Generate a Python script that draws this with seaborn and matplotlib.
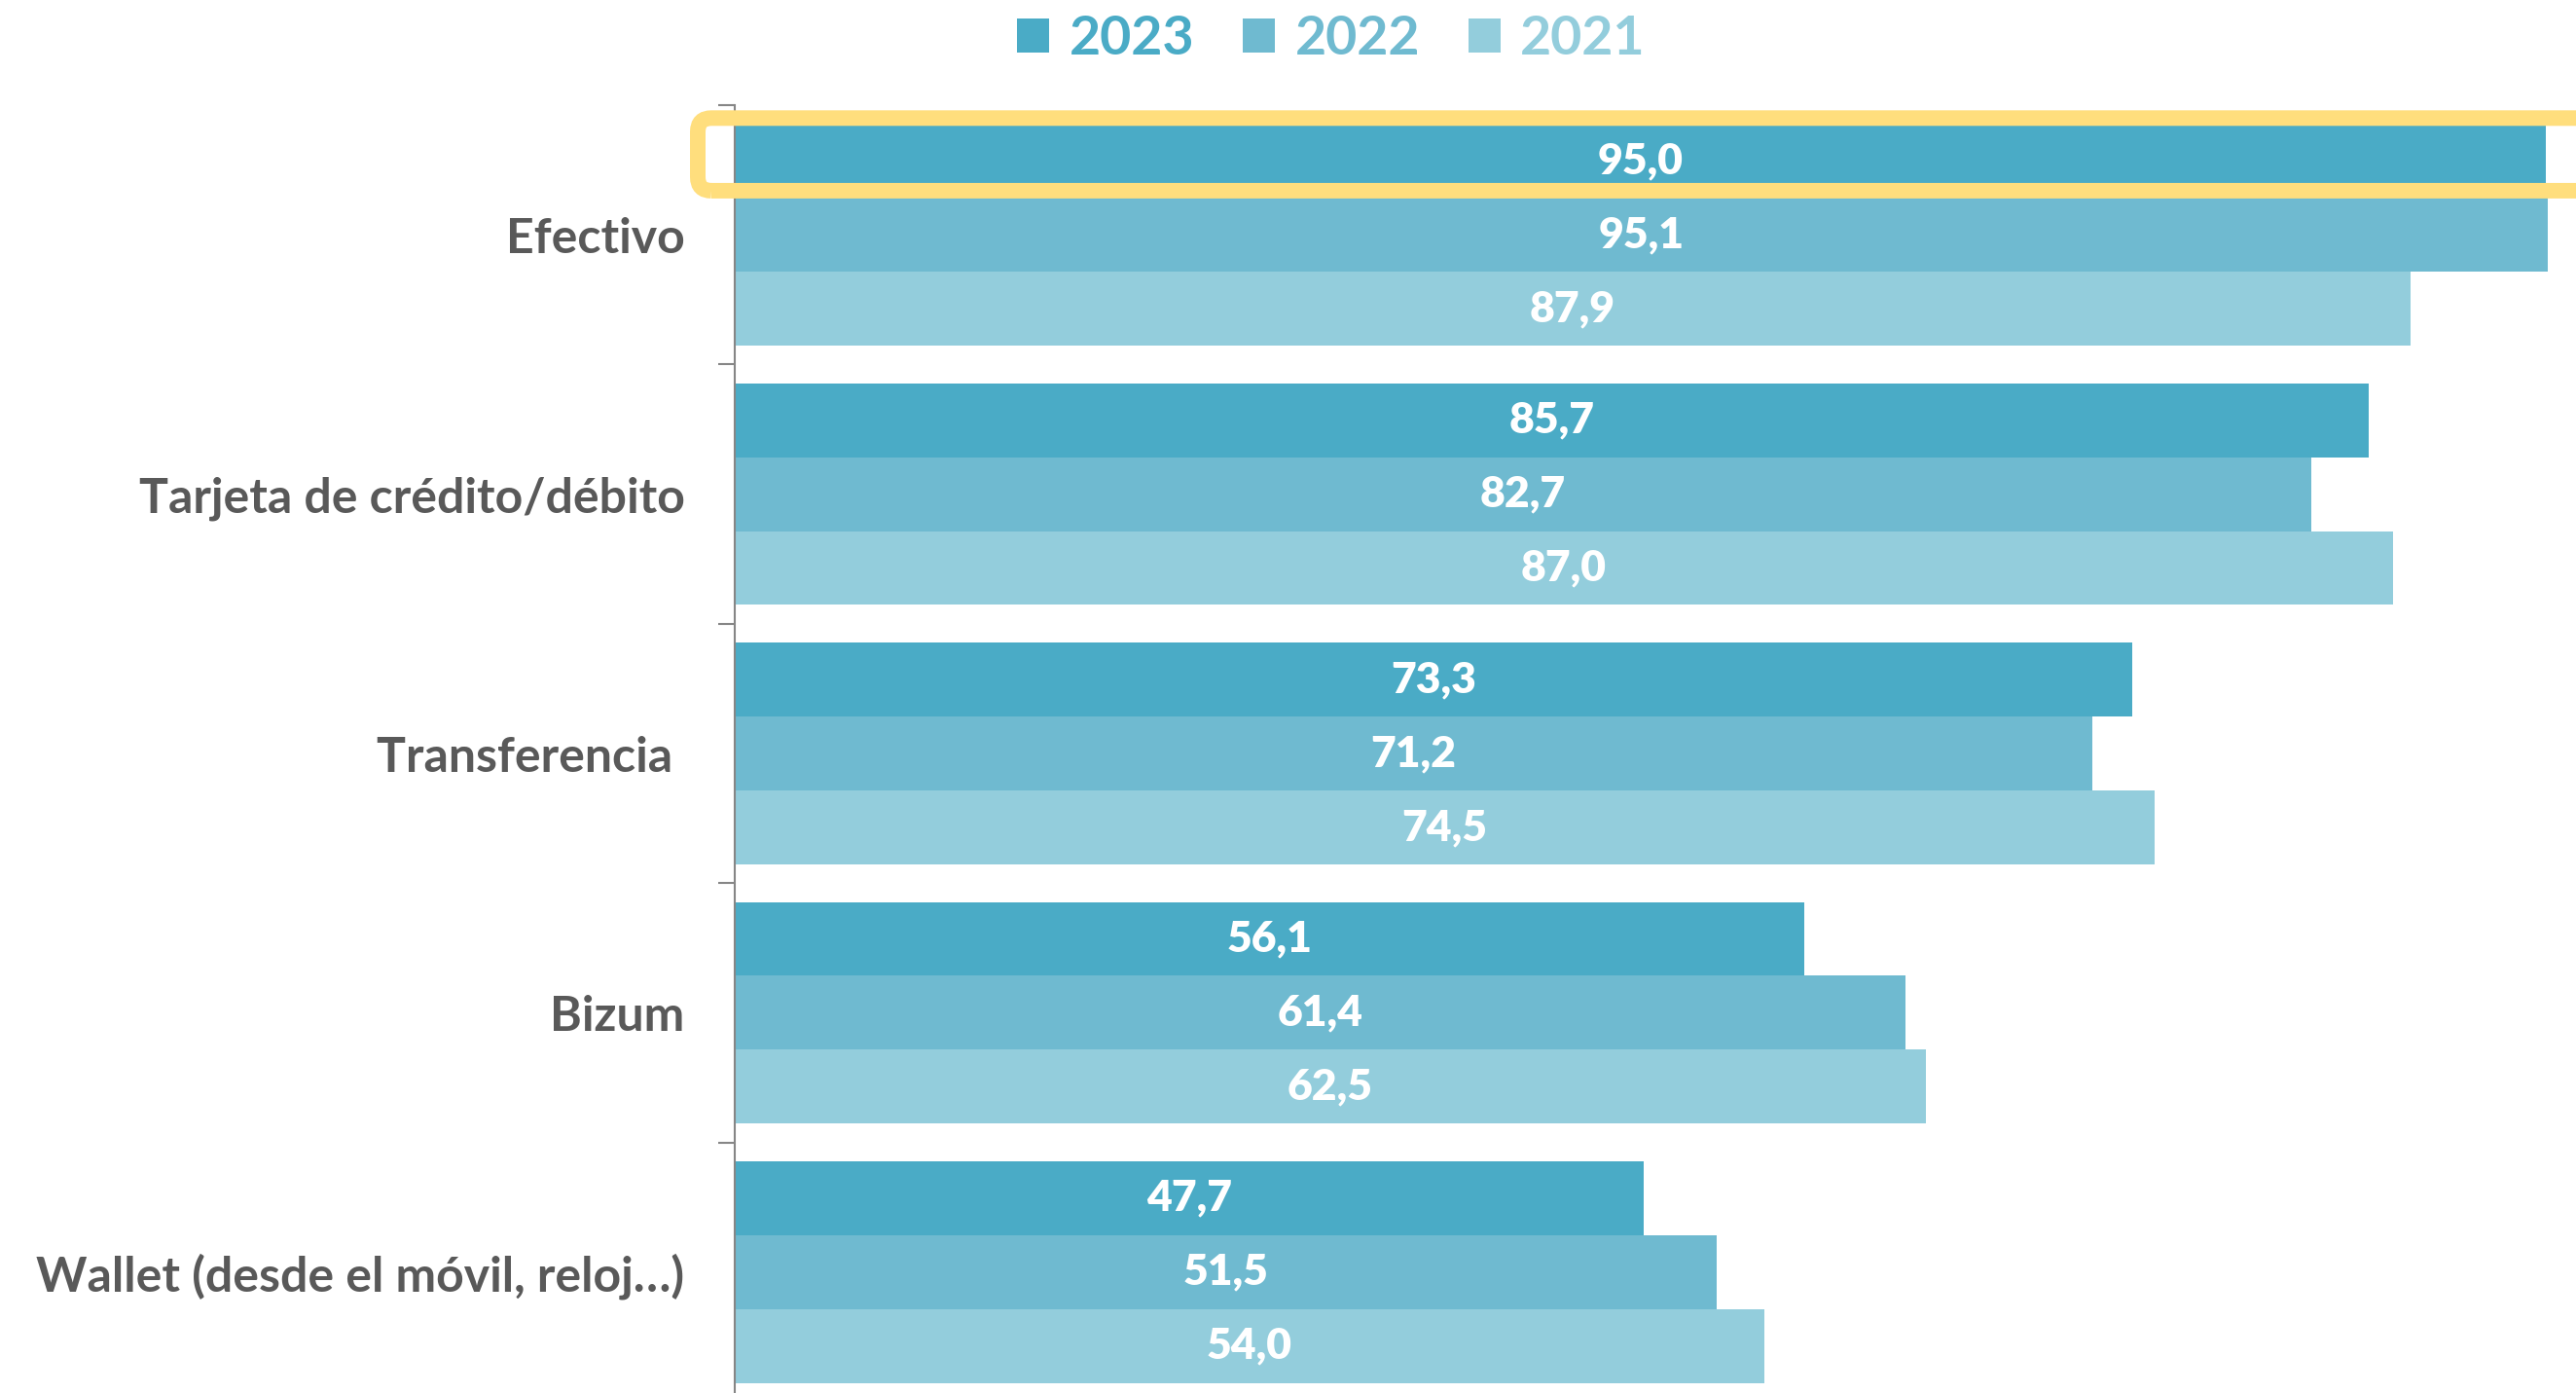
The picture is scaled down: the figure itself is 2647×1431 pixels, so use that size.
import matplotlib
matplotlib.use("Agg")
import matplotlib.pyplot as plt
from matplotlib.patches import FancyBboxPatch
from matplotlib.transforms import IdentityTransform
import pandas as pd
import seaborn as sns

categories = ["Efectivo", "Tarjeta de crédito/débito", "Transferencia ",
              "Bizum", "Wallet (desde el móvil, reloj…)"]
years = ["2023", "2022", "2021"]
vals_2023 = [95.0, 85.7, 73.3, 56.1, 47.7]
vals_2022 = [95.1, 82.7, 71.2, 61.4, 51.5]
vals_2021 = [87.9, 87.0, 74.5, 62.5, 54.0]
colors = ["#4AABC6", "#6FBAD0", "#93CDDC"]

series = {"2023": vals_2023, "2022": vals_2022, "2021": vals_2021}
df = pd.DataFrame(
    [(c, y, v) for y in years for c, v in zip(categories, series[y])],
    columns=["medio", "year", "valor"])

sns.set_style("white")
plt.rcParams["font.family"] = ["Lato", "DejaVu Sans"]

W, H = 2647, 1431
fig = plt.figure(figsize=(W / 100, H / 100), dpi=100)
ax_left, ax_top, ax_bottom = 755, 108, 1440
ax = fig.add_axes([ax_left / W, (H - ax_bottom) / H,
                   (W - ax_left) / W, (ax_bottom - ax_top) / H])

sns.barplot(data=df, y="medio", x="valor", hue="year", hue_order=years,
            order=categories, palette=colors, width=0.855, linewidth=0,
            saturation=1, ax=ax, legend=True)

ax.set_xlim(0, 96.6)
ax.set_ylim(4.5, -0.5)
ax.set_xlabel("")
ax.set_ylabel("")
ax.set_xticks([])

# value labels
for cont, y in zip(ax.containers, years):
    labels = [f"{v:.1f}".replace(".", ",") for v in series[y]]
    ax.bar_label(cont, labels=labels, label_type="center", color="white",
                 fontsize=32, fontweight="heavy")

# category ticks at the boundaries, labels at centers
ax.set_yticks(range(len(categories)))
ax.set_yticklabels(categories, fontsize=36, fontweight="bold", color="#595959")
ax.set_yticks([i - 0.5 for i in range(len(categories) + 1)], minor=True)
ax.tick_params(axis="y", which="major", length=0, pad=37)
ax.tick_params(axis="y", which="minor", length=12, width=1.5,
               color="#868686", left=True)

for s in ["top", "right", "bottom"]:
    ax.spines[s].set_visible(False)
ax.spines["left"].set_color("#868686")
ax.spines["left"].set_linewidth(1.5)

# legend
handles, lbls = ax.get_legend_handles_labels()
ax.get_legend().remove()
leg = fig.legend(handles, lbls, loc="center", bbox_to_anchor=(1368 / W, 1 - 40 / H),
                 ncol=3, frameon=False, handlelength=0.6, handleheight=0.6,
                 handletextpad=0.36, columnspacing=0.9,
                 prop={"size": 40, "weight": "bold"})
for txt, c in zip(leg.get_texts(), colors):
    txt.set_color(c)

# yellow highlight around the first bar
fig.canvas.draw()
x0, y0 = ax.transData.transform((-1.94, -0.45))
x1, y1 = ax.transData.transform((110, -0.17))
box = FancyBboxPatch((x0, min(y0, y1)), x1 - x0, abs(y1 - y0),
                     boxstyle="round,pad=0,rounding_size=14",
                     transform=IdentityTransform(), fill=False,
                     edgecolor="#FFDE7D", linewidth=11.5, zorder=10)
fig.add_artist(box)

fig.savefig("out.png", dpi=100)
